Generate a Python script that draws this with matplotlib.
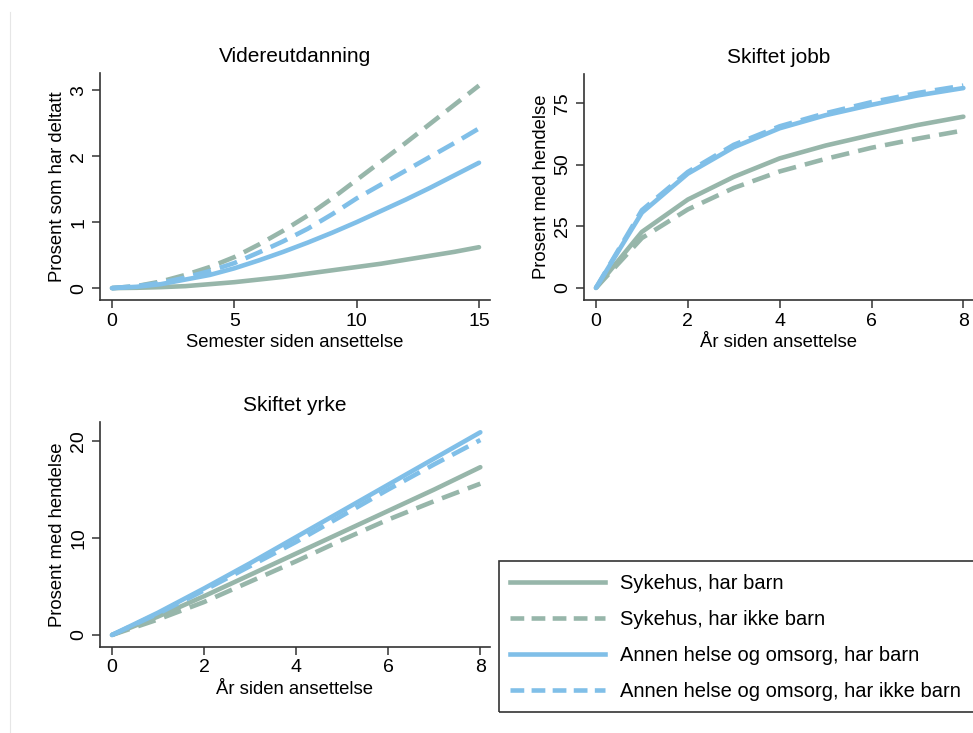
import matplotlib
matplotlib.use("Agg")
import matplotlib.pyplot as plt
from matplotlib.lines import Line2D
from matplotlib.patches import Rectangle

plt.rcParams['font.family'] = ['Liberation Sans', 'DejaVu Sans']

green = '#97b6aa'
blue = '#80bfe8'

labels = ['Sykehus, har barn', 'Sykehus, har ikke barn',
          'Annen helse og omsorg, har barn', 'Annen helse og omsorg, har ikke barn']

# Videreutdanning (semester 0-15)
sem = list(range(16))
vu_syk_barn = [0, 0.005, 0.015, 0.03, 0.06, 0.09, 0.13, 0.17, 0.22, 0.27, 0.32, 0.37, 0.43, 0.49, 0.55, 0.62]
vu_syk_ikke = [0, 0.03, 0.1, 0.2, 0.32, 0.47, 0.66, 0.87, 1.1, 1.36, 1.64, 1.92, 2.2, 2.49, 2.78, 3.07]
vu_ann_barn = [0, 0.02, 0.06, 0.13, 0.2, 0.3, 0.42, 0.55, 0.69, 0.84, 1.0, 1.17, 1.34, 1.52, 1.71, 1.9]
vu_ann_ikke = [0, 0.03, 0.08, 0.16, 0.26, 0.38, 0.54, 0.71, 0.9, 1.12, 1.36, 1.57, 1.78, 1.99, 2.2, 2.42]

# Skiftet jobb (aar 0-8)
aar = list(range(9))
sj_syk_barn = [0, 22.7, 35.8, 45, 52.5, 57.7, 62, 66, 69.4]
sj_syk_ikke = [0, 20.2, 31.8, 40.5, 47.2, 52.3, 56.8, 60.5, 63.8]
sj_ann_barn = [0, 30.5, 46.3, 57, 64.7, 70, 74.2, 78, 81]
sj_ann_ikke = [0, 31.5, 47, 58, 65.5, 70.8, 75.3, 79, 82]

# Skiftet yrke (aar 0-8)
sy_syk_barn = [0, 1.9, 4.0, 6.2, 8.4, 10.6, 12.8, 15.0, 17.3]
sy_syk_ikke = [0, 1.6, 3.4, 5.5, 7.6, 9.8, 11.9, 13.8, 15.6]
sy_ann_barn = [0, 2.3, 4.8, 7.4, 10.1, 12.8, 15.5, 18.2, 20.9]
sy_ann_ikke = [0, 2.2, 4.6, 7.1, 9.6, 12.3, 15.0, 17.6, 20.1]

W, H = 973, 733
fig = plt.figure(figsize=(W / 100, H / 100), dpi=100)

def box(l, t, r, b):
    return [l / W, 1 - b / H, (r - l) / W, (b - t) / H]

lw = 3.3
dash = (4, 2)

def panel(rect, x, series, title, xlabel, ylabel, xlim, ylim, xticks, yticks):
    ax = fig.add_axes(rect)
    styles = [(green, '-'), (green, '--'), (blue, '-'), (blue, '--')]
    for y, (c, ls) in zip(series, styles):
        ln, = ax.plot(x, y, color=c, lw=lw, solid_capstyle='round')
        if ls == '--':
            ln.set_dashes(dash)
    ax.set_xlim(*xlim)
    ax.set_ylim(*ylim)
    ax.set_xticks(xticks)
    ax.set_yticks(yticks)
    ax.spines['top'].set_visible(False)
    ax.spines['right'].set_visible(False)
    for s in ('left', 'bottom'):
        ax.spines[s].set_linewidth(1.2)
        ax.spines[s].set_color('#333333')
    ax.tick_params(axis='both', labelsize=14, length=6, width=1.1, color='#333333', pad=3)
    for t in ax.get_yticklabels():
        t.set_rotation(90)
        t.set_va('center')
    ax.set_title(title, fontsize=15, pad=8)
    ax.set_xlabel(xlabel, fontsize=13.3, labelpad=3)
    ax.set_ylabel(ylabel, fontsize=13.3, labelpad=3)
    return ax

panel(box(100, 73, 490, 300), sem, [vu_syk_barn, vu_syk_ikke, vu_ann_barn, vu_ann_ikke],
      'Videreutdanning', 'Semester siden ansettelse', 'Prosent som har deltatt',
      (-0.49, 15.45), (-0.18, 3.26), [0, 5, 10, 15], [0, 1, 2, 3])

panel(box(584, 74, 973, 300), aar, [sj_syk_barn, sj_syk_ikke, sj_ann_barn, sj_ann_ikke],
      'Skiftet jobb', 'År siden ansettelse', 'Prosent med hendelse',
      (-0.26, 8.21), (-4.9, 86.7), [0, 2, 4, 6, 8], [0, 25, 50, 75])

panel(box(100, 422, 490, 647), aar, [sy_syk_barn, sy_syk_ikke, sy_ann_barn, sy_ann_ikke],
      'Skiftet yrke', 'År siden ansettelse', 'Prosent med hendelse',
      (-0.26, 8.21), (-1.24, 21.96), [0, 2, 4, 6, 8], [0, 10, 20])

handles = []
for c, ls in [(green, '-'), (green, '--'), (blue, '-'), (blue, '--')]:
    h = Line2D([], [], color=c, lw=lw)
    if ls == '--':
        h.set_dashes((3, 1.6))
    handles.append(h)
leg = fig.legend(handles, labels, loc='upper left', bbox_to_anchor=(499 / W, 1 - 563 / H),
                 fontsize=14.5, frameon=False,
                 handlelength=4.7, handletextpad=0.75, labelspacing=0.85,
                 borderpad=0.55, borderaxespad=0)

# legend frame runs past the right edge of the picture
fig.add_artist(Rectangle((499 / W, 1 - 712 / H), 500 / W, 151 / H, fill=False,
                         edgecolor='#333333', lw=1.2, transform=fig.transFigure))

# faint border line at left
fig.add_artist(Line2D([9.5 / W, 9.5 / W], [0, 1 - 12 / H], color='#e6e6e6', lw=0.8))

fig.savefig('out.png', dpi=100)
